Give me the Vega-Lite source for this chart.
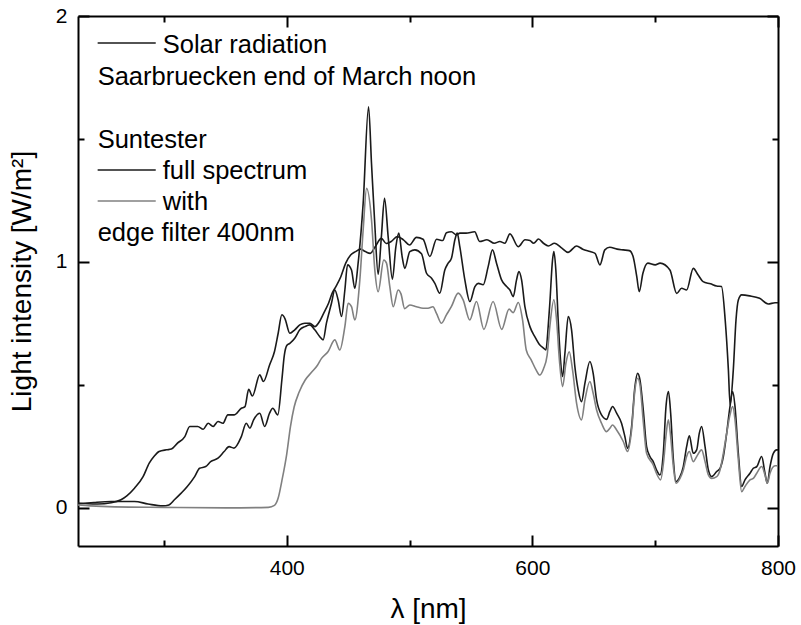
{
"$schema": "https://vega.github.io/schema/vega-lite/v6.json",
"width": 700, "height": 530,
"autosize": {"type": "none"},
"padding": {"left": 78, "top": 16, "right": 23, "bottom": 79},
"background": "white",
"config": {"font": "Liberation Sans", "view": {"stroke": null},
 "axis": {"domainColor": "#000", "domainWidth": 2, "tickColor": "#000", "tickWidth": 2, "grid": false, "labelColor": "#000", "titleColor": "#000", "labelFont": "Liberation Sans", "titleFont": "Liberation Sans", "labelFontSize": 21, "titleFontSize": 28, "titleFontWeight": "normal"}},
"datasets": {
"A": [{"w":230,"i":0.020},{"w":238,"i":0.017},{"w":246,"i":0.016},{"w":257,"i":0.021},{"w":265,"i":0.033},{"w":270,"i":0.05},{"w":276,"i":0.08},{"w":283,"i":0.127},{"w":288,"i":0.182},{"w":292,"i":0.21},{"w":296,"i":0.229},{"w":302,"i":0.236},{"w":306,"i":0.239},{"w":311,"i":0.263},{"w":317,"i":0.290},{"w":321,"i":0.331},{"w":327.5,"i":0.331},{"w":332,"i":0.320},{"w":336,"i":0.344},{"w":340,"i":0.331},{"w":344,"i":0.351},{"w":348,"i":0.344},{"w":352,"i":0.378},{"w":357,"i":0.378},{"w":363,"i":0.405},{"w":366,"i":0.412},{"w":369,"i":0.482},{"w":372,"i":0.455},{"w":378,"i":0.541},{"w":381,"i":0.514},{"w":386,"i":0.581},{"w":390,"i":0.636},{"w":393,"i":0.710},{"w":396,"i":0.785},{"w":398.5,"i":0.77},{"w":402.5,"i":0.71},{"w":406.5,"i":0.724},{"w":410.6,"i":0.744},{"w":414.7,"i":0.751},{"w":418.8,"i":0.751},{"w":422.8,"i":0.737},{"w":426.9,"i":0.76},{"w":430,"i":0.791},{"w":434,"i":0.832},{"w":437,"i":0.873},{"w":440,"i":0.90},{"w":444,"i":0.94},{"w":448,"i":0.995},{"w":452,"i":1.028},{"w":456,"i":1.042},{"w":460,"i":1.052},{"w":464,"i":1.042},{"w":468,"i":1.035},{"w":472,"i":1.062},{"w":477,"i":1.096},{"w":481,"i":1.075},{"w":485,"i":1.083},{"w":490,"i":1.103},{"w":495,"i":1.09},{"w":500,"i":1.069},{"w":505.6,"i":1.100},{"w":511,"i":1.092},{"w":516.5,"i":1.022},{"w":522,"i":1.092},{"w":527,"i":1.087},{"w":530,"i":1.119},{"w":534,"i":1.123},{"w":538,"i":1.110},{"w":541,"i":1.117},{"w":546,"i":1.117},{"w":553,"i":1.123},{"w":557,"i":1.083},{"w":563,"i":1.090},{"w":569,"i":1.076},{"w":573.5,"i":1.083},{"w":577.6,"i":1.076},{"w":581.7,"i":1.114},{"w":588.5,"i":1.062},{"w":594,"i":1.090},{"w":598,"i":1.087},{"w":601,"i":1.076},{"w":605,"i":1.093},{"w":609,"i":1.076},{"w":613,"i":1.065},{"w":618,"i":1.076},{"w":624,"i":1.056},{"w":629,"i":1.039},{"w":636,"i":1.065},{"w":641,"i":1.052},{"w":647,"i":1.042},{"w":651,"i":1.035},{"w":655,"i":0.988},{"w":659,"i":1.049},{"w":663,"i":1.060},{"w":669,"i":1.052},{"w":674,"i":1.049},{"w":679,"i":1.046},{"w":682,"i":1.022},{"w":685,"i":0.940},{"w":687,"i":0.879},{"w":690,"i":0.954},{"w":694,"i":0.995},{"w":700,"i":0.988},{"w":704,"i":0.995},{"w":712,"i":0.967},{"w":717.5,"i":0.872},{"w":721.5,"i":0.893},{"w":725.6,"i":0.886},{"w":731,"i":0.974},{"w":735,"i":0.947},{"w":739,"i":0.920},{"w":745,"i":0.911},{"w":750,"i":0.902},{"w":754,"i":0.900},{"w":757,"i":0.764},{"w":759.6,"i":0.561},{"w":761,"i":0.42},{"w":763.6,"i":0.561},{"w":765.8,"i":0.764},{"w":767.7,"i":0.845},{"w":770.4,"i":0.866},{"w":777,"i":0.862},{"w":785,"i":0.852},{"w":792,"i":0.829},{"w":797.6,"i":0.834},{"w":800,"i":0.834}],
"B": [{"w":230,"i":0.016},{"w":243,"i":0.022},{"w":257,"i":0.026},{"w":276,"i":0.026},{"w":287,"i":0.016},{"w":299,"i":0.008},{"w":304,"i":0.012},{"w":308.5,"i":0.033},{"w":314,"i":0.060},{"w":319,"i":0.087},{"w":325,"i":0.127},{"w":329,"i":0.161},{"w":334,"i":0.168},{"w":338,"i":0.188},{"w":344,"i":0.202},{"w":349,"i":0.229},{"w":353,"i":0.249},{"w":357,"i":0.243},{"w":363,"i":0.290},{"w":367,"i":0.344},{"w":370,"i":0.324},{"w":373,"i":0.358},{"w":378,"i":0.385},{"w":382,"i":0.331},{"w":386,"i":0.385},{"w":388.6,"i":0.405},{"w":392.7,"i":0.378},{"w":396,"i":0.520},{"w":398,"i":0.62},{"w":400,"i":0.66},{"w":402.5,"i":0.669},{"w":406.5,"i":0.690},{"w":410.6,"i":0.724},{"w":414.7,"i":0.737},{"w":418.8,"i":0.744},{"w":422.8,"i":0.724},{"w":426.9,"i":0.696},{"w":429.6,"i":0.683},{"w":432.3,"i":0.751},{"w":436.4,"i":0.832},{"w":439.1,"i":0.886},{"w":441.8,"i":0.846},{"w":444.6,"i":0.778},{"w":447.3,"i":0.886},{"w":449.5,"i":0.988},{"w":452.7,"i":0.967},{"w":455.4,"i":0.893},{"w":458.1,"i":0.995},{"w":462.2,"i":1.238},{"w":466.6,"i":1.631},{"w":469,"i":1.40},{"w":471.7,"i":1.15},{"w":474.4,"i":0.95},{"w":477,"i":1.10},{"w":479.6,"i":1.259},{"w":482.6,"i":1.10},{"w":486,"i":0.93},{"w":488.8,"i":1.06},{"w":491.2,"i":1.117},{"w":494,"i":1.02},{"w":496.1,"i":0.974},{"w":500.2,"i":1.042},{"w":504.3,"i":1.049},{"w":509.7,"i":1.033},{"w":513.8,"i":0.954},{"w":517.9,"i":0.934},{"w":520.6,"i":0.913},{"w":524.6,"i":0.873},{"w":528.7,"i":0.967},{"w":531.4,"i":0.995},{"w":534.1,"i":1.015},{"w":536.9,"i":1.090},{"w":538.8,"i":1.117},{"w":540.9,"i":1.062},{"w":545,"i":0.927},{"w":549.1,"i":0.839},{"w":553.2,"i":0.900},{"w":555.9,"i":0.913},{"w":559.9,"i":0.907},{"w":564,"i":0.981},{"w":567.5,"i":1.049},{"w":570.8,"i":0.995},{"w":574.9,"i":0.927},{"w":579,"i":0.900},{"w":581.7,"i":0.886},{"w":584.4,"i":0.859},{"w":587.1,"i":0.927},{"w":589,"i":0.961},{"w":591.2,"i":0.927},{"w":593.9,"i":0.818},{"w":598,"i":0.737},{"w":602,"i":0.696},{"w":606.1,"i":0.662},{"w":609,"i":0.650},{"w":611,"i":0.642},{"w":612.9,"i":0.74},{"w":614.2,"i":0.832},{"w":616.4,"i":1.008},{"w":617.5,"i":1.042},{"w":619.1,"i":0.967},{"w":621,"i":0.764},{"w":622.9,"i":0.601},{"w":624.6,"i":0.534},{"w":626.5,"i":0.629},{"w":629.2,"i":0.778},{"w":631.9,"i":0.724},{"w":634.6,"i":0.574},{"w":637.3,"i":0.480},{"w":640,"i":0.432},{"w":642.8,"i":0.507},{"w":646.8,"i":0.595},{"w":649.5,"i":0.547},{"w":652.3,"i":0.439},{"w":656.3,"i":0.378},{"w":660.4,"i":0.360},{"w":663.1,"i":0.392},{"w":665.3,"i":0.412},{"w":668.6,"i":0.385},{"w":672.6,"i":0.344},{"w":675.3,"i":0.290},{"w":677.5,"i":0.242},{"w":680.8,"i":0.331},{"w":683.5,"i":0.493},{"w":685.7,"i":0.547},{"w":687.6,"i":0.520},{"w":690.3,"i":0.398},{"w":693,"i":0.249},{"w":695.7,"i":0.209},{"w":698.4,"i":0.188},{"w":701.1,"i":0.154},{"w":703.9,"i":0.134},{"w":706.6,"i":0.222},{"w":708.8,"i":0.412},{"w":710.8,"i":0.473},{"w":712.6,"i":0.385},{"w":714.8,"i":0.195},{"w":716.9,"i":0.107},{"w":720.2,"i":0.127},{"w":722.9,"i":0.168},{"w":725.6,"i":0.249},{"w":727.8,"i":0.293},{"w":731,"i":0.222},{"w":733.8,"i":0.236},{"w":735.9,"i":0.303},{"w":737.8,"i":0.331},{"w":740.6,"i":0.249},{"w":743.3,"i":0.154},{"w":746,"i":0.127},{"w":750.1,"i":0.148},{"w":752.8,"i":0.161},{"w":755.5,"i":0.209},{"w":758.2,"i":0.303},{"w":760.9,"i":0.412},{"w":763.1,"i":0.473},{"w":765,"i":0.412},{"w":767.7,"i":0.222},{"w":770.4,"i":0.087},{"w":773.1,"i":0.114},{"w":777.2,"i":0.141},{"w":779.9,"i":0.161},{"w":782.7,"i":0.168},{"w":786.7,"i":0.209},{"w":789.4,"i":0.141},{"w":791.3,"i":0.100},{"w":793.5,"i":0.168},{"w":796.2,"i":0.222},{"w":798.9,"i":0.236},{"w":800,"i":0.236}],
"C": [{"w":230,"i":0.012},{"w":240,"i":0.008},{"w":260,"i":0.004},{"w":300,"i":0.002},{"w":350,"i":0.0},{"w":385,"i":0.002},{"w":390,"i":0.01},{"w":393,"i":0.04},{"w":396,"i":0.11},{"w":400,"i":0.22},{"w":403,"i":0.33},{"w":406,"i":0.41},{"w":410,"i":0.47},{"w":415,"i":0.52},{"w":420,"i":0.55},{"w":425,"i":0.58},{"w":428.3,"i":0.608},{"w":433.7,"i":0.636},{"w":439.1,"i":0.683},{"w":443.2,"i":0.642},{"w":447.3,"i":0.737},{"w":450,"i":0.832},{"w":452.7,"i":0.818},{"w":455.4,"i":0.764},{"w":459.5,"i":0.927},{"w":462.2,"i":1.13},{"w":465,"i":1.299},{"w":469,"i":1.171},{"w":471.7,"i":0.967},{"w":474.4,"i":0.879},{"w":479,"i":1.008},{"w":481.2,"i":0.995},{"w":483.9,"i":0.90},{"w":486.7,"i":0.818},{"w":490.7,"i":0.886},{"w":493,"i":0.87},{"w":496,"i":0.81},{"w":500.2,"i":0.825},{"w":505.6,"i":0.818},{"w":511,"i":0.812},{"w":515,"i":0.812},{"w":519,"i":0.818},{"w":521.9,"i":0.791},{"w":526,"i":0.751},{"w":530,"i":0.785},{"w":534,"i":0.818},{"w":539.6,"i":0.873},{"w":543.6,"i":0.846},{"w":549,"i":0.764},{"w":554.5,"i":0.839},{"w":560.5,"i":0.726},{"w":568,"i":0.839},{"w":575,"i":0.726},{"w":581,"i":0.808},{"w":584.4,"i":0.794},{"w":588.5,"i":0.835},{"w":592,"i":0.764},{"w":595,"i":0.642},{"w":599,"i":0.602},{"w":603,"i":0.561},{"w":606,"i":0.54},{"w":609,"i":0.565},{"w":612,"i":0.62},{"w":614.2,"i":0.737},{"w":617.5,"i":0.846},{"w":619.7,"i":0.764},{"w":622,"i":0.601},{"w":624.6,"i":0.493},{"w":627.3,"i":0.588},{"w":630,"i":0.635},{"w":632.7,"i":0.561},{"w":636,"i":0.425},{"w":640,"i":0.358},{"w":642.8,"i":0.439},{"w":646.8,"i":0.514},{"w":649.5,"i":0.466},{"w":652.3,"i":0.398},{"w":656.3,"i":0.344},{"w":660.4,"i":0.310},{"w":663.1,"i":0.324},{"w":665.3,"i":0.337},{"w":668.6,"i":0.317},{"w":674,"i":0.270},{"w":677.5,"i":0.229},{"w":680.8,"i":0.317},{"w":683.5,"i":0.480},{"w":685.7,"i":0.527},{"w":687.6,"i":0.500},{"w":690.3,"i":0.35},{"w":693,"i":0.222},{"w":698.4,"i":0.175},{"w":701,"i":0.141},{"w":704.4,"i":0.114},{"w":707,"i":0.195},{"w":709,"i":0.303},{"w":710.7,"i":0.358},{"w":712.6,"i":0.290},{"w":714.8,"i":0.168},{"w":716.9,"i":0.100},{"w":720.2,"i":0.120},{"w":722.9,"i":0.154},{"w":725.6,"i":0.209},{"w":727.8,"i":0.229},{"w":731,"i":0.188},{"w":733.8,"i":0.209},{"w":737.8,"i":0.236},{"w":740.6,"i":0.188},{"w":743.3,"i":0.134},{"w":746,"i":0.120},{"w":750.1,"i":0.127},{"w":752.8,"i":0.154},{"w":755.5,"i":0.222},{"w":758.2,"i":0.303},{"w":760.9,"i":0.378},{"w":763.1,"i":0.412},{"w":765,"i":0.358},{"w":767.7,"i":0.195},{"w":770.4,"i":0.066},{"w":773.1,"i":0.087},{"w":777.2,"i":0.114},{"w":779.9,"i":0.120},{"w":782.7,"i":0.141},{"w":786.7,"i":0.168},{"w":789.4,"i":0.134},{"w":791.3,"i":0.100},{"w":793.5,"i":0.141},{"w":797.6,"i":0.171},{"w":800,"i":0.171}],
"one": [{}]
},
"layer": [
 {"data": {"name": "A"},
  "mark": {"type": "line", "color": "#1a1a1a", "strokeWidth": 1.6, "interpolate": "monotone"},
  "encoding": {
   "x": {"field": "w", "type": "quantitative", "scale": {"domain": [230, 800], "nice": false, "zero": false},
    "axis": {"orient": "bottom", "values": [300, 400, 500, 600, 700, 800], "labelExpr": "datum.value % 200 === 0 ? datum.label : ''", "tickSize": {"condition": {"test": "datum.value % 200 === 0", "value": -11}, "value": -6}, "labelPadding": 22, "labelFlush": false, "labelOverlap": false, "title": "λ [nm]", "titlePadding": 12}},
   "y": {"field": "i", "type": "quantitative", "scale": {"domain": [-0.155, 2], "nice": false, "zero": false},
    "axis": {"orient": "left", "values": [0, 0.5, 1, 1.5, 2], "labelExpr": "datum.value % 1 === 0 ? '' + datum.value : ''", "tickSize": {"condition": {"test": "datum.value % 1 === 0", "value": -11}, "value": -6}, "labelPadding": 22, "labelFlush": false, "labelOverlap": false, "title": "Light intensity [W/m²]", "titlePadding": 19}}
  }},
 {"data": {"name": "B"},
  "mark": {"type": "line", "color": "#1a1a1a", "strokeWidth": 1.6, "interpolate": "monotone"},
  "encoding": {
   "x": {"field": "w", "type": "quantitative", "scale": {"domain": [230, 800], "nice": false, "zero": false},
    "axis": {"orient": "top", "values": [300, 400, 500, 600, 700, 800], "labels": false, "title": null, "tickSize": {"condition": {"test": "datum.value % 200 === 0", "value": -11}, "value": -6}}},
   "y": {"field": "i", "type": "quantitative", "scale": {"domain": [-0.155, 2], "nice": false, "zero": false},
    "axis": {"orient": "right", "values": [0, 0.5, 1, 1.5, 2], "labels": false, "title": null, "tickSize": {"condition": {"test": "datum.value % 1 === 0", "value": -11}, "value": -6}}}
  }},
 {"data": {"name": "C"},
  "mark": {"type": "line", "color": "#808080", "strokeWidth": 1.6, "interpolate": "monotone"},
  "encoding": {
   "x": {"field": "w", "type": "quantitative", "scale": {"domain": [230, 800], "nice": false, "zero": false}, "axis": null},
   "y": {"field": "i", "type": "quantitative", "scale": {"domain": [-0.155, 2], "nice": false, "zero": false}, "axis": null}
  }},
 {"data": {"name": "one"}, "mark": {"type": "rule", "color": "#1a1a1a", "strokeWidth": 1.6},
  "encoding": {"x": {"datum": 246, "type": "quantitative", "axis": null}, "x2": {"datum": 293.3}, "y": {"datum": 1.89, "type": "quantitative", "axis": null}}},
 {"data": {"name": "one"}, "mark": {"type": "rule", "color": "#1a1a1a", "strokeWidth": 1.6},
  "encoding": {"x": {"datum": 246, "type": "quantitative", "axis": null}, "x2": {"datum": 293.3}, "y": {"datum": 1.374, "type": "quantitative", "axis": null}}},
 {"data": {"name": "one"}, "mark": {"type": "rule", "color": "#808080", "strokeWidth": 1.6},
  "encoding": {"x": {"datum": 246, "type": "quantitative", "axis": null}, "x2": {"datum": 293.3}, "y": {"datum": 1.248, "type": "quantitative", "axis": null}}},
 {"data": {"name": "one"}, "mark": {"type": "text", "align": "left", "baseline": "alphabetic", "fontSize": 25.5, "font": "Liberation Sans", "color": "#000"},
  "encoding": {"x": {"datum": 299, "type": "quantitative", "axis": null}, "y": {"datum": 1.85, "type": "quantitative", "axis": null}, "text": {"value": "Solar radiation"}}},
 {"data": {"name": "one"}, "mark": {"type": "text", "align": "left", "baseline": "alphabetic", "fontSize": 25.5, "font": "Liberation Sans", "color": "#000"},
  "encoding": {"x": {"datum": 246, "type": "quantitative", "axis": null}, "y": {"datum": 1.72, "type": "quantitative", "axis": null}, "text": {"value": "Saarbruecken end of March noon"}}},
 {"data": {"name": "one"}, "mark": {"type": "text", "align": "left", "baseline": "alphabetic", "fontSize": 25.5, "font": "Liberation Sans", "color": "#000"},
  "encoding": {"x": {"datum": 246, "type": "quantitative", "axis": null}, "y": {"datum": 1.463, "type": "quantitative", "axis": null}, "text": {"value": "Suntester"}}},
 {"data": {"name": "one"}, "mark": {"type": "text", "align": "left", "baseline": "alphabetic", "fontSize": 25.5, "font": "Liberation Sans", "color": "#000"},
  "encoding": {"x": {"datum": 299, "type": "quantitative", "axis": null}, "y": {"datum": 1.337, "type": "quantitative", "axis": null}, "text": {"value": "full spectrum"}}},
 {"data": {"name": "one"}, "mark": {"type": "text", "align": "left", "baseline": "alphabetic", "fontSize": 25.5, "font": "Liberation Sans", "color": "#000"},
  "encoding": {"x": {"datum": 299, "type": "quantitative", "axis": null}, "y": {"datum": 1.211, "type": "quantitative", "axis": null}, "text": {"value": "with"}}},
 {"data": {"name": "one"}, "mark": {"type": "text", "align": "left", "baseline": "alphabetic", "fontSize": 25.5, "font": "Liberation Sans", "color": "#000"},
  "encoding": {"x": {"datum": 246, "type": "quantitative", "axis": null}, "y": {"datum": 1.085, "type": "quantitative", "axis": null}, "text": {"value": "edge filter 400nm"}}}
],
"resolve": {"axis": {"x": "independent", "y": "independent"}}
}
